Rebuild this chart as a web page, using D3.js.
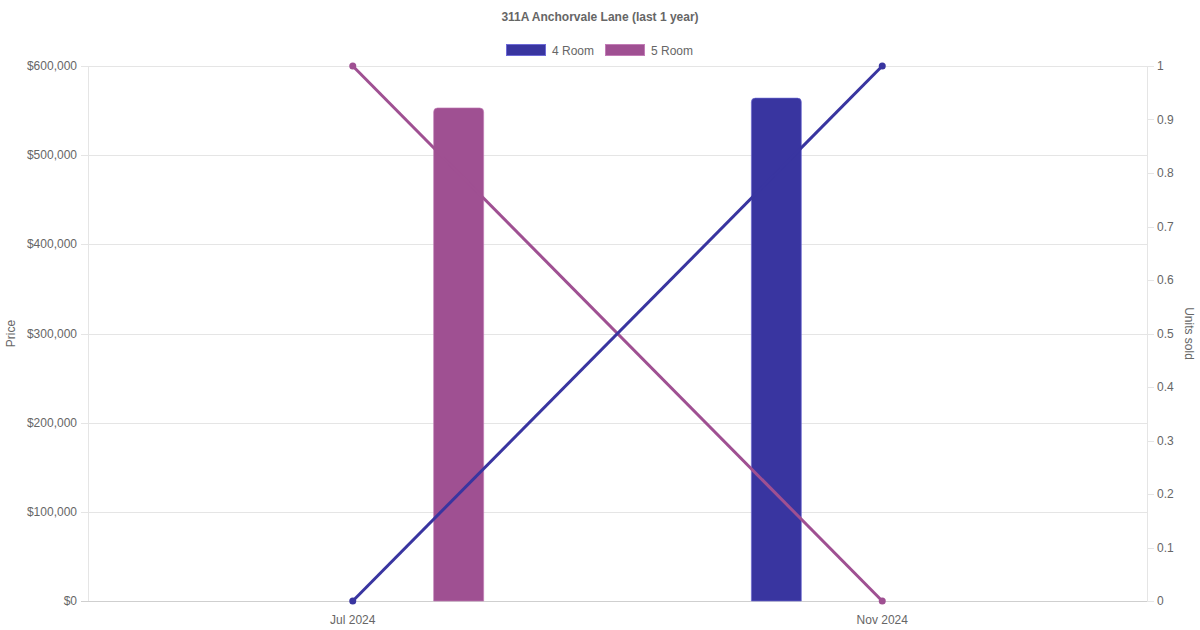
<!DOCTYPE html>
<html>
<head>
<meta charset="utf-8">
<script src="https://cdn.jsdelivr.net/npm/d3@7"></script>
<style>
  html, body { margin: 0; padding: 0; background: #fff; }
  svg { display: block; font-family: "Liberation Sans", Arial, Helvetica, sans-serif; }
</style>
</head>
<body>
<svg id="chart" width="1200" height="630"></svg>
<script>
const title = "311A Anchorvale Lane (last 1 year)";
const categories = ["Jul 2024", "Nov 2024"];
const seriesNames = ["4 Room", "5 Room"];
const seriesColors = ["#3935a0", "#9f5092"];
const seriesBorder = ["#6e6ad6", "#c27cb6"];
const priceRoom4 = [0, 564000];
const priceRoom5 = [553000, 0];
const unitsRoom4 = [0, 1];
const unitsRoom5 = [1, 0];
const priceTicks = [0, 100000, 200000, 300000, 400000, 500000, 600000];
const unitTicks = [0, 0.1, 0.2, 0.3, 0.4, 0.5, 0.6, 0.7, 0.8, 0.9, 1];
const leftAxisTitle = "Price";
const rightAxisTitle = "Units sold";

const prices = [priceRoom4, priceRoom5];
const units = [unitsRoom4, unitsRoom5];

const svg = d3.select("#chart");
const m = { left: 88, right: 1147, top: 66, bottom: 601 };
const textColor = "#666";
const gridColor = "#e5e5e5";

const x = d3.scaleBand().domain(categories).range([m.left, m.right]).paddingInner(0).paddingOuter(0);
const xg = d3.scaleBand().domain(seriesNames).range([0, x.bandwidth()]).paddingInner(0).paddingOuter(0.1 / 0.8 * 0.5 * 0.8 / 0.8 * 1);
// category percentage 0.8: group occupies 80% of band
const groupWidth = x.bandwidth() * 0.8;
const xs = d3.scaleBand().domain(seriesNames).range([0, groupWidth]);
const yL = d3.scaleLinear().domain([0, 600000]).range([m.bottom, m.top]);
const yR = d3.scaleLinear().domain([0, 1]).range([m.bottom, m.top]);

// Title
svg.append("text").attr("x", 600).attr("y", 21).attr("text-anchor", "middle")
  .attr("font-size", 12).attr("font-weight", "bold").attr("fill", textColor).text(title);

// Legend
const legend = svg.append("g");
const legendX = [506, 605];
seriesNames.forEach((n, i) => {
  legend.append("rect").attr("x", legendX[i] + 0.5).attr("y", 44.5).attr("width", 39).attr("height", 11)
    .attr("fill", seriesColors[i]).attr("stroke", seriesBorder[i]).attr("stroke-width", 1);
  legend.append("text").attr("x", legendX[i] + 46).attr("y", 54.5).attr("font-size", 12)
    .attr("fill", textColor).text(n);
});

// Gridlines (left axis)
const grid = svg.append("g");
priceTicks.forEach(t => {
  grid.append("line").attr("x1", m.left - 7).attr("x2", m.right)
    .attr("y1", Math.round(yL(t)) + 0.5).attr("y2", Math.round(yL(t)) + 0.5)
    .attr("stroke", t === 0 ? "#cfcfcf" : gridColor).attr("stroke-width", 1);
});
// Right ticks
unitTicks.forEach(t => {
  grid.append("line").attr("x1", m.right).attr("x2", m.right + 7)
    .attr("y1", Math.round(yR(t)) + 0.5).attr("y2", Math.round(yR(t)) + 0.5)
    .attr("stroke", gridColor).attr("stroke-width", 1);
});
// Axis borders
grid.append("line").attr("x1", m.left + 0.5).attr("x2", m.left + 0.5).attr("y1", m.top).attr("y2", m.bottom)
  .attr("stroke", gridColor);
grid.append("line").attr("x1", m.right + 0.5).attr("x2", m.right + 0.5).attr("y1", m.top).attr("y2", m.bottom)
  .attr("stroke", gridColor);

// Left axis labels
const fmt = d => "$" + d3.format(",")(d);
priceTicks.forEach(t => {
  svg.append("text").attr("x", m.left - 11).attr("y", yL(t) + 4).attr("text-anchor", "end")
    .attr("font-size", 12).attr("fill", textColor).text(fmt(t));
});
// Right axis labels
unitTicks.forEach(t => {
  svg.append("text").attr("x", m.right + 10).attr("y", yR(t) + 4).attr("text-anchor", "start")
    .attr("font-size", 12).attr("fill", textColor).text(d3.format("")(+t.toFixed(1)));
});
// X labels
categories.forEach(c => {
  svg.append("text").attr("x", x(c) + x.bandwidth() / 2).attr("y", 624).attr("text-anchor", "middle")
    .attr("font-size", 12).attr("fill", textColor).text(c);
});
// Axis titles
svg.append("text").attr("transform", `translate(15,${(m.top + m.bottom) / 2}) rotate(-90)`)
  .attr("text-anchor", "middle").attr("font-size", 12).attr("fill", textColor).text(leftAxisTitle);
svg.append("text").attr("transform", `translate(1185,${(m.top + m.bottom) / 2}) rotate(90)`)
  .attr("text-anchor", "middle").attr("font-size", 12).attr("fill", textColor).text(rightAxisTitle);

// Bars
const barW = 50, r = 4;
function topRounded(x0, y0, w, h, rr) {
  rr = Math.min(rr, h, w / 2);
  return `M${x0},${y0 + h}V${y0 + rr}Q${x0},${y0} ${x0 + rr},${y0}H${x0 + w - rr}Q${x0 + w},${y0} ${x0 + w},${y0 + rr}V${y0 + h}Z`;
}
const bars = svg.append("g");
seriesNames.forEach((n, si) => {
  categories.forEach((c, ci) => {
    const v = prices[si][ci];
    if (!v) return;
    const cx = x(c) + x.bandwidth() * 0.1 + xs(n) + xs.bandwidth() / 2;
    const y0 = yL(v);
    bars.append("path").attr("d", topRounded(cx - barW / 2, y0, barW, yL(0) - y0, r))
      .attr("fill", seriesColors[si]).attr("stroke", seriesBorder[si]).attr("stroke-width", 1)
      .attr("stroke-opacity", 0.6);
  });
});

// Lines
const lines = svg.append("g");
[1, 0].forEach(si => {
  const pts = categories.map((c, ci) => [x(c) + x.bandwidth() / 2, yR(units[si][ci])]);
  lines.append("path").attr("d", d3.line()(pts)).attr("fill", "none")
    .attr("stroke", seriesColors[si]).attr("stroke-width", 3);
  pts.forEach(p => lines.append("circle").attr("cx", p[0]).attr("cy", p[1]).attr("r", 3.5)
    .attr("fill", seriesColors[si]));
});
</script>
</body>
</html>
